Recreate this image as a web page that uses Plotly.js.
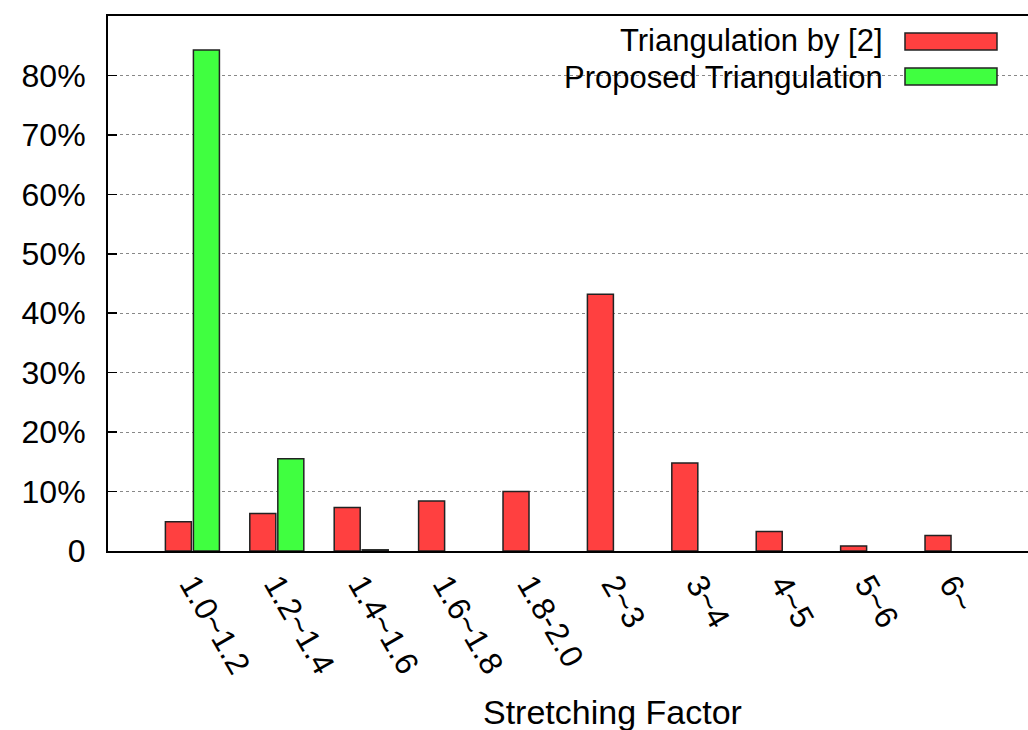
<!DOCTYPE html>
<html>
<head>
<meta charset="utf-8">
<script src="https://cdn.plot.ly/plotly-3.0.1.min.js"></script>
<style>html,body{margin:0;padding:0;background:#fff;}#chart{width:1028px;height:730px;}</style>
</head>
<body>
<div id="chart"></div>
<script>
const categories = ["1.0~1.2", "1.2~1.4", "1.4~1.6", "1.6~1.8", "1.8-2.0", "2~3", "3~4", "4~5", "5~6", "6~"];
const seriesNames = ["Triangulation by [2]", "Proposed Triangulation"];
const triangulationBy2 = [4.9, 6.3, 7.3, 8.4, 10.0, 43.2, 14.8, 3.3, 0.85, 2.6];
const proposed = [84.3, 15.5, 0.2, 0, 0, 0, 0, 0, 0, 0];
const yTickVals = [0, 10, 20, 30, 40, 50, 60, 70, 80];
const yTickText = ["0", "10%", "20%", "30%", "40%", "50%", "60%", "70%", "80%"];
const xAxisTitle = "Stretching Factor";
const colors = ["#ff4040", "#40ff40"];

const FONT = "Liberation Sans, Arial, Helvetica, sans-serif";
const xIdx = categories.map((c, i) => i);

const traces = [triangulationBy2, proposed].map((vals, k) => ({
  type: "bar",
  name: seriesNames[k],
  x: xIdx,
  y: vals.map(v => (v === 0 ? null : v)),
  marker: { color: colors[k], line: { color: "#222", width: 1.5 } },
  showlegend: false,
  hoverinfo: "skip"
}));

// legend as text + swatches on the right, like the original
const legendY = [0.955, 0.885];
const swatchY = [[0.9364, 0.968], [0.871, 0.9028]];
const annotations = seriesNames.map((n, k) => ({
  xref: "paper", yref: "paper", x: 0.8446, y: legendY[k],
  xanchor: "right", yanchor: "middle", showarrow: false,
  text: n, font: { family: FONT, size: 31, color: "#000" }
}));
annotations.push({
  xref: "paper", yref: "paper", x: 0.548, y: -0.301,
  xanchor: "center", yanchor: "middle", showarrow: false,
  text: xAxisTitle, font: { family: FONT, size: 34, color: "#000" }
});
const shapes = [
  { type: "rect", xref: "paper", yref: "paper", x0: 0.3457, x1: 0.983, y0: 0.843, y1: 0.997,
    fillcolor: "#fff", line: { width: 0 }, layer: "between" }
].concat(seriesNames.map((n, k) => ({
  type: "rect", xref: "paper", yref: "paper", x0: 0.8663, x1: 0.9663,
  y0: swatchY[k][0], y1: swatchY[k][1],
  fillcolor: colors[k], line: { color: "#222", width: 1.5 }, layer: "above"
})));

const layout = {
  width: 1028, height: 730,
  margin: { l: 108, r: 0, t: 16, b: 179 },
  paper_bgcolor: "#fff", plot_bgcolor: "#fff",
  barmode: "group", bargap: 0.336, bargroupgap: 0.072,
  font: { family: FONT, size: 32, color: "#000" },
  xaxis: {
    range: [-1.0, 9.9], tickmode: "array", tickvals: xIdx, ticktext: categories,
    tickangle: 60, ticks: "", showgrid: false, zeroline: false,
    showline: true, linecolor: "#000", linewidth: 2, mirror: true,
    tickfont: { family: FONT, size: 32 },
    automargin: false
  },
  yaxis: {
    range: [0, 90], tickmode: "array", tickvals: yTickVals, ticktext: yTickText,
    ticks: "inside", ticklen: 9, tickwidth: 1.5, tickcolor: "#000",
    showline: true, linecolor: "#000", linewidth: 2, mirror: false,
    showgrid: true, gridcolor: "#888", gridwidth: 1, griddash: "dot",
    zeroline: false, automargin: false, ticklabelstandoff: 14,
    tickfont: { family: FONT, size: 32 }
  },
  annotations: annotations,
  shapes: shapes
};

Plotly.newPlot("chart", traces, layout, { staticPlot: true, displayModeBar: false });
</script>
</body>
</html>
